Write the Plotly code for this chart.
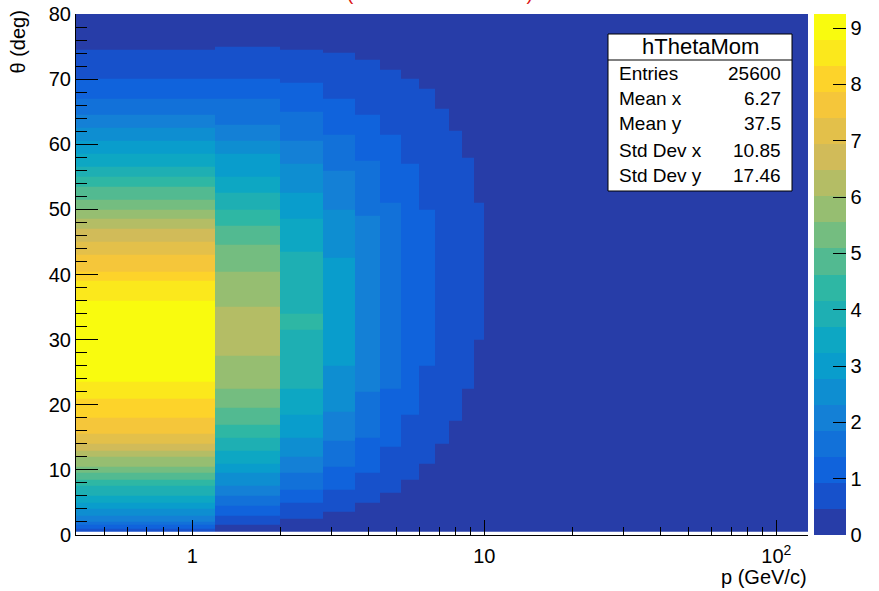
import math
import plotly.graph_objects as go

# ---------------- data ----------------
# momentum bin edges (GeV/c): 12 filled columns of width 0.8, then the (empty) rest
x_edges = [0.4, 1.2, 2.0, 2.8, 3.6, 4.4, 5.2, 6.0, 6.8, 7.6, 8.4, 9.2, 10.0, 128.4]
theta_lo, theta_hi, theta_step = 0.5, 80.5, 0.5
z_max = 9.25
n_levels = 20

# per momentum column: upper theta edge of each band and its content (bottom -> top)
col1_edges = [1.0, 1.5, 2.0, 3.0, 3.9, 4.9, 5.9, 7.4, 8.45, 9.5, 10.5, 11.8, 12.8, 13.8, 15.6, 17.9, 21.0,
              23.5, 36.1, 39.05, 40.7, 43.25, 45.0, 47.1, 48.5, 50.0, 51.5, 53.5, 55.0, 56.65, 58.6, 60.65,
              62.7, 64.65, 67.05, 70.1, 74.6, 80.5]
col1_vals = [0.7, 1.2, 1.6, 2.1, 2.5, 3.0, 3.5, 3.9, 4.4, 4.9, 5.3, 5.8, 6.2, 6.7, 7.2, 7.6, 8.1,
             8.6, 9.1, 8.6, 8.1, 7.6, 7.2, 6.7, 6.2, 5.8, 5.3, 4.9, 4.4, 3.9, 3.5, 3.0,
             2.5, 2.1, 1.6, 1.2, 0.7, 0.1]
col2_edges = [1.5, 2.8, 4.35, 5.9, 7.4, 9.35, 10.85, 12.95, 14.8, 17.0, 19.4, 22.4, 27.5, 35.0, 40.7,
              44.5, 47.6, 50.2, 52.5, 55.0, 58.3, 60.65, 63.2, 66.8, 70.0, 75.2, 80.5]
col2_vals = [0.1, 0.7, 1.2, 1.6, 2.1, 2.5, 3.0, 3.5, 3.9, 4.4, 4.9, 5.3, 5.8, 6.2, 5.8,
             5.3, 4.9, 4.4, 3.9, 3.5, 3.0, 2.5, 2.1, 1.6, 1.2, 0.7, 0.1]
col3_edges = [2.4, 4.9, 7.2, 9.5, 12.0, 15.1, 18.7, 22.4, 31.5, 34.0, 43.5, 48.6, 52.7, 56.8, 60.65,
              64.8, 69.4, 74.6, 80.5]
col3_vals = [0.1, 0.7, 1.2, 1.6, 2.1, 2.5, 3.0, 3.5, 3.9, 4.4, 3.9, 3.5, 3.0, 2.5, 2.1,
             1.6, 1.2, 0.7, 0.1]
col4_edges = [3.3, 6.9, 10.5, 14.3, 18.9, 25.85, 42.5, 50.2, 56.05, 61.4, 67.05, 74.2, 80.5]
col4_vals = [0.1, 0.7, 1.2, 1.6, 2.1, 2.5, 3.0, 2.5, 2.1, 1.6, 1.2, 0.7, 0.1]
col5_edges = [4.85, 9.5, 14.85, 22.0, 49.1, 57.6, 64.5, 73.2, 80.5]
col5_vals = [0.1, 0.7, 1.2, 1.6, 2.1, 1.6, 1.2, 0.7, 0.1]
col6_edges = [6.4, 13.55, 22.5, 51.2, 61.7, 71.7, 80.5]
col6_vals = [0.1, 0.7, 1.2, 1.6, 1.2, 0.7, 0.1]
col7_edges = [8.45, 18.4, 57.1, 70.1, 80.5]
col7_vals = [0.1, 0.7, 1.2, 0.7, 0.1]
col8_edges = [10.8, 25.85, 50.2, 68.3, 80.5]
col8_vals = [0.1, 0.7, 1.2, 0.7, 0.1]
col9_edges = [14.0, 65.7, 80.5]
col9_vals = [0.1, 0.7, 0.1]
col10_edges = [17.4, 62.2, 80.5]
col10_vals = [0.1, 0.7, 0.1]
col11_edges = [22.4, 58.1, 80.5]
col11_vals = [0.1, 0.7, 0.1]
col12_edges = [29.9, 51.1, 80.5]
col12_vals = [0.1, 0.7, 0.1]
rest_edges = [80.5]
rest_vals = [0.1]

stats_labels = ["Entries", "Mean x", "Mean y", "Std Dev x", "Std Dev y"]
stats_values = ["25600", "6.27", "37.5", "10.85", "17.46"]
hist_name = "hThetaMom"

x_tickvals = [1, 10, 100]
x_ticktext = ["1", "10", "10<sup>2</sup>"]
x_minor = [0.5, 0.6, 0.7, 0.8, 0.9, 2, 3, 4, 5, 6, 7, 8, 9, 20, 30, 40, 50, 60, 70, 80, 90]
y_tickvals = [0, 10, 20, 30, 40, 50, 60, 70, 80]
cb_ticks = [0, 1, 2, 3, 4, 5, 6, 7, 8, 9]

# ---------------- build grid ----------------
columns = [(col1_edges, col1_vals), (col2_edges, col2_vals), (col3_edges, col3_vals),
           (col4_edges, col4_vals), (col5_edges, col5_vals), (col6_edges, col6_vals),
           (col7_edges, col7_vals), (col8_edges, col8_vals), (col9_edges, col9_vals),
           (col10_edges, col10_vals), (col11_edges, col11_vals), (col12_edges, col12_vals),
           (rest_edges, rest_vals)]

n_rows = int(round((theta_hi - theta_lo) / theta_step))
y_edges = [theta_lo + k * theta_step for k in range(n_rows + 1)]
z = []
for r in range(n_rows):
    c = theta_lo + (r + 0.5) * theta_step
    row = []
    for edges, vals in columns:
        v = vals[-1]
        for e, val in zip(edges, vals):
            if c < e:
                v = val
                break
        row.append(v)
    z.append(row)

# ---------------- ROOT kBird palette, 20 contour levels ----------------
stops = [0.0, 0.125, 0.25, 0.375, 0.5, 0.625, 0.75, 0.875, 1.0]
red = [0.2082, 0.0592, 0.0780, 0.0232, 0.1802, 0.5301, 0.8186, 0.9956, 0.9764]
green = [0.1664, 0.3599, 0.5041, 0.6419, 0.7178, 0.7492, 0.7328, 0.7862, 0.9832]
blue = [0.5293, 0.8684, 0.8385, 0.7914, 0.6425, 0.4662, 0.3499, 0.1968, 0.0539]


def bird(f):
    for i in range(len(stops) - 1):
        if stops[i] <= f <= stops[i + 1]:
            t = (f - stops[i]) / (stops[i + 1] - stops[i])
            rr = red[i] + t * (red[i + 1] - red[i])
            gg = green[i] + t * (green[i + 1] - green[i])
            bb = blue[i] + t * (blue[i + 1] - blue[i])
            return "rgb(%d,%d,%d)" % (round(rr * 255), round(gg * 255), round(bb * 255))
    return "rgb(249,251,14)"


colorscale = []
for i in range(n_levels):
    idx = int((i + 0.99) * 255 / n_levels)
    col = bird(min(idx, 254) / 254.0)
    colorscale.append([i / n_levels, col])
    colorscale.append([(i + 1) / n_levels, col])

# ---------------- figure ----------------
W, H = 879, 591
L, R, T, B = 76, 71, 14, 56
pw, ph = W - L - R, H - T - B


def px(X):
    return (X - L) / pw


def py(Y):
    return (H - B - Y) / ph


FONT = "Liberation Sans, Arial, Helvetica, sans-serif"
TICK_SIZE = 20

fig = go.Figure()
fig.add_trace(go.Heatmap(
    x=x_edges, y=y_edges, z=z,
    zmin=0, zmax=z_max, colorscale=colorscale,
    hoverinfo="skip",
    colorbar=dict(
        x=px(814), xanchor="left", y=0, yanchor="bottom", len=1, lenmode="fraction",
        thickness=32, thicknessmode="pixels", xpad=0, ypad=0, outlinewidth=0,
        tickvals=cb_ticks, ticks="inside", ticklen=13, tickcolor="black", tickwidth=1,
        tickfont=dict(family=FONT, size=TICK_SIZE, color="black"),
    ),
))

fig.update_layout(
    width=W, height=H, autosize=False,
    margin=dict(l=L, r=R, t=T, b=B, pad=0, autoexpand=False),
    paper_bgcolor="white", plot_bgcolor="white",
    font=dict(family=FONT, size=TICK_SIZE, color="black"),
    xaxis=dict(
        type="log", range=[math.log10(x_edges[0]), math.log10(x_edges[-1])],
        tickvals=x_tickvals, ticktext=x_ticktext, ticks="inside", ticklen=15,
        tickcolor="black", tickwidth=1, showgrid=False, zeroline=False,
        showline=True, linecolor="black", linewidth=1, mirror=False,
        ticklabelstandoff=3,
        minor=dict(tickvals=x_minor, ticks="inside", ticklen=8, tickcolor="black", tickwidth=1, showgrid=False),
        tickfont=dict(family=FONT, size=TICK_SIZE, color="black"),
    ),
    yaxis=dict(
        range=[0, 80], tickvals=y_tickvals, ticks="inside", ticklen=22,
        tickcolor="black", tickwidth=1, showgrid=False, zeroline=False,
        showline=True, linecolor="black", linewidth=1,
        minor=dict(dtick=2, ticks="inside", ticklen=11, tickcolor="black", tickwidth=1, showgrid=False),
        tickfont=dict(family=FONT, size=TICK_SIZE, color="black"),
    ),
)

# axis titles
fig.add_annotation(text="θ (deg)", xref="paper", yref="paper", x=px(18), y=py(9),
                   xanchor="center", yanchor="top", textangle=-90, showarrow=False,
                   font=dict(family=FONT, size=20, color="black"))
fig.add_annotation(text="p (GeV/c)", xref="paper", yref="paper", x=px(809), y=py(577),
                   xanchor="right", yanchor="middle", showarrow=False,
                   font=dict(family=FONT, size=20, color="black"))
# title (mostly above the canvas; only its lowest strokes show)
fig.add_annotation(text="(Theta vs Momentum)", xref="paper", yref="paper", x=px(440), y=py(5),
                   xanchor="center", yanchor="bottom", showarrow=False, borderpad=0,
                   font=dict(family=FONT, size=19, color="rgb(220,20,20)"))

# statistics box
bx0, bx1, by0, by1, byh = 608, 792, 34, 191, 60
fig.add_shape(type="rect", xref="paper", yref="paper", x0=px(bx0), x1=px(bx1), y0=py(by1), y1=py(by0),
              fillcolor="white", line=dict(color="black", width=1), layer="above")
fig.add_shape(type="line", xref="paper", yref="paper", x0=px(bx0), x1=px(bx1), y0=py(byh), y1=py(byh),
              line=dict(color="black", width=1), layer="above")
fig.add_annotation(text=hist_name, xref="paper", yref="paper", x=px((bx0 + bx1) / 2), y=py(47),
                   xanchor="center", yanchor="middle", showarrow=False,
                   font=dict(family=FONT, size=22, color="black"))
row_y = [74, 99, 124, 151, 176]
for lab, val, yy in zip(stats_labels, stats_values, row_y):
    fig.add_annotation(text=lab, xref="paper", yref="paper", x=px(617), y=py(yy),
                       xanchor="left", yanchor="middle", showarrow=False,
                       font=dict(family=FONT, size=19, color="black"))
    fig.add_annotation(text=val, xref="paper", yref="paper", x=px(783), y=py(yy),
                       xanchor="right", yanchor="middle", showarrow=False,
                       font=dict(family=FONT, size=19, color="black"))

fig.write_html("out.html")
